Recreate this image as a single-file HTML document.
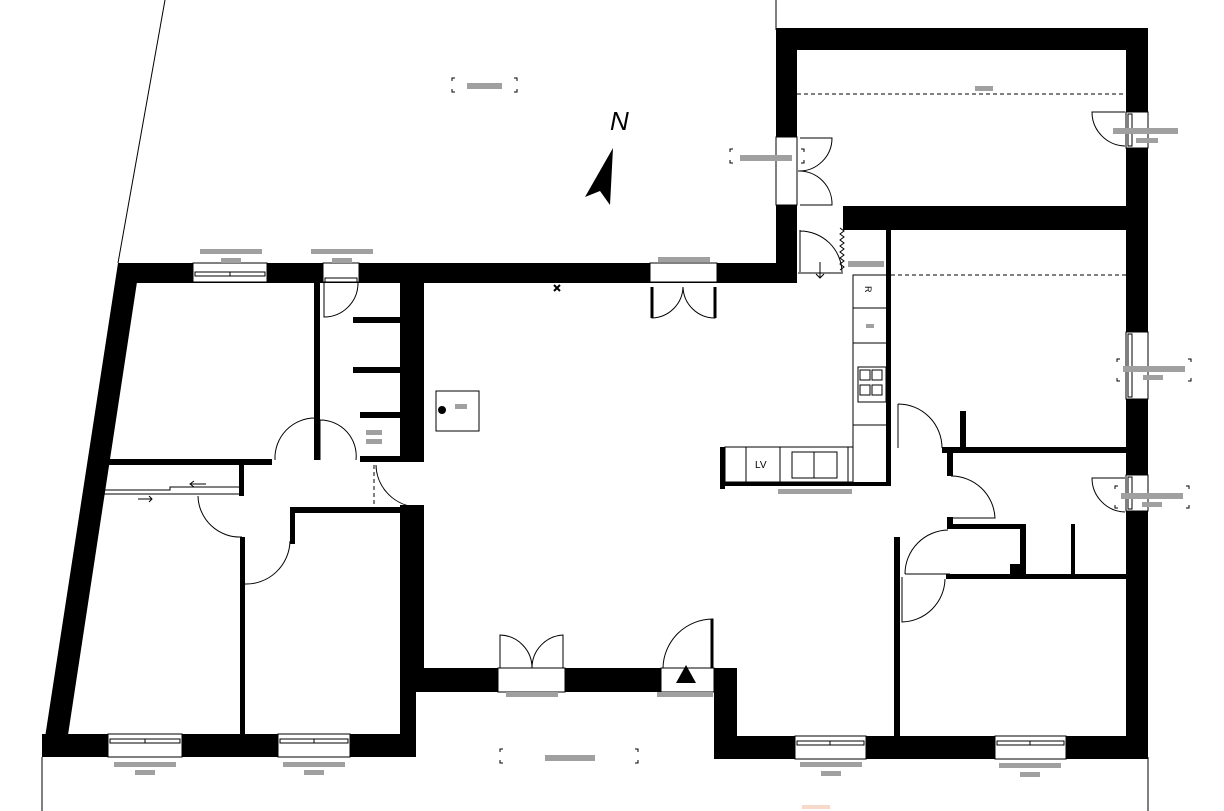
<!DOCTYPE html>
<html><head><meta charset="utf-8"><style>
html,body{margin:0;padding:0;background:#fff;}
svg{display:block}
</style></head><body>
<svg width="1224" height="811" viewBox="0 0 1224 811" xmlns="http://www.w3.org/2000/svg">
<rect width="1224" height="811" fill="#fff"/>
<g stroke="#000" stroke-width="1" fill="none">
<line x1="165" y1="0" x2="118" y2="263"/>
<line x1="776" y1="0" x2="776" y2="30"/>
<line x1="42" y1="757" x2="42" y2="811"/>
<line x1="1148" y1="757" x2="1148" y2="811"/>
</g>
<g fill="#000">
<polygon points="118,263 140,263 137,282 68,735 68,757 42,757"/>
<rect x="118" y="263" width="679" height="20"/>
<rect x="776" y="28" width="372" height="22"/>
<rect x="776" y="28" width="21" height="255"/>
<rect x="1126" y="28" width="22" height="731"/>
<rect x="843" y="206" width="283" height="24"/>
<rect x="886" y="206" width="5" height="280"/>
<rect x="400" y="282" width="24" height="180"/>
<rect x="400" y="505" width="24" height="187"/>
<rect x="400" y="690" width="16" height="67"/>
<rect x="42" y="734" width="374" height="23"/>
<rect x="416" y="668" width="320" height="24"/>
<rect x="714" y="668" width="23" height="91"/>
<rect x="714" y="736" width="434" height="23"/>
<rect x="104" y="459" width="168" height="6"/>
<rect x="314" y="282" width="6" height="178"/>
<rect x="353" y="317" width="47" height="6"/>
<rect x="353" y="367" width="47" height="6"/>
<rect x="360" y="412" width="40" height="6"/>
<rect x="360" y="456" width="64" height="6"/>
<rect x="239" y="460" width="5" height="36"/>
<rect x="290" y="507" width="134" height="6"/>
<rect x="290" y="507" width="5" height="37"/>
<rect x="240" y="537" width="5" height="198"/>
<rect x="894" y="537" width="6" height="200"/>
<rect x="942" y="447" width="184" height="6"/>
<rect x="960" y="411" width="6" height="38"/>
<rect x="947" y="450" width="6" height="26"/>
<rect x="947" y="517" width="6" height="12"/>
<rect x="950" y="524" width="76" height="5"/>
<rect x="1020" y="524" width="6" height="54"/>
<rect x="1071" y="524" width="4" height="54"/>
<rect x="946" y="574" width="180" height="5"/>
<rect x="1010" y="564" width="16" height="14"/>
<rect x="720" y="482" width="171" height="4"/>
<rect x="720" y="447" width="5" height="42"/>
</g>
<g fill="#fff" stroke="#000" stroke-width="1">
<rect x="193" y="263" width="74" height="19"/>
<rect x="323" y="263" width="36" height="19"/>
<rect x="650" y="263" width="67" height="19"/>
<rect x="776" y="137" width="21" height="68"/>
<rect x="108" y="734" width="74" height="23"/>
<rect x="278" y="734" width="72" height="23"/>
<rect x="498" y="668" width="67" height="24"/>
<rect x="661" y="668" width="53" height="24"/>
<rect x="795" y="736" width="71" height="23"/>
<rect x="995" y="736" width="71" height="23"/>
<rect x="1126" y="332" width="22" height="67"/>
<rect x="1126" y="475" width="22" height="36"/>
<rect x="1126" y="112" width="22" height="36"/>
<rect x="400" y="462" width="24" height="43" stroke="none"/>
</g>
<g stroke="#000" stroke-width="1" fill="none">
<rect x="195" y="272" width="70" height="4"/><line x1="230" y1="272" x2="230" y2="276"/>
<rect x="110" y="739" width="70" height="4"/><line x1="145" y1="739" x2="145" y2="743"/>
<rect x="280" y="739" width="68" height="4"/><line x1="314" y1="739" x2="314" y2="743"/>
<rect x="797" y="741" width="67" height="4"/><line x1="830" y1="741" x2="830" y2="745"/>
<rect x="997" y="741" width="67" height="4"/><line x1="1030" y1="741" x2="1030" y2="745"/>
<rect x="1128" y="334" width="4" height="63"/>
<rect x="1128" y="477" width="4" height="32"/>
<rect x="1128" y="114" width="4" height="32"/>
<rect x="325" y="278" width="32" height="4"/>
<path d="M324,283 V317 A34,34 0 0 0 358,283"/>
<path d="M652,287 V318 A32,32 0 0 0 683,287 M715,287 V318 A32,32 0 0 1 683,287"/>
<path d="M652,287 v31 M715,287 v31" stroke-width="3"/>
<path d="M800,138 H832 A33,33 0 0 1 798,171 M800,205 H832 A33,33 0 0 0 798,171"/>
<path d="M1125,112 H1092 A34,34 0 0 0 1125,146"/>
<path d="M1125,478 H1092 A34,34 0 0 0 1125,512"/>
<path d="M500,668 V635 A33,33 0 0 1 532,668 M563,668 V635 A33,33 0 0 0 532,668"/>
<path d="M713,668 V619 A50,50 0 0 0 663,668"/>
<path d="M712,619 v49" stroke-width="3"/>
<path d="M800,230 V272 M800,231 A42,42 0 0 1 842,272"/>
<path d="M798,273 H843"/>
<path d="M316,460 V418 A40,40 0 0 0 275,460 M320,460 V420 A36,36 0 0 1 356,460"/>
<path d="M376,465 A43,43 0 0 0 418,507"/>
<path d="M198,496 A42,42 0 0 0 242,537 M244,538 V584 A44,44 0 0 0 290,541"/>
<path d="M898,404 V448 M898,404 A44,44 0 0 1 942,448"/>
<path d="M951,476 A44,44 0 0 1 995,518 H952"/>
<path d="M905,574 H950 M905,574 A44,44 0 0 1 948,530"/>
<path d="M902,577 V622 A44,44 0 0 0 945,579"/>
<path d="M103,490 H170 V487 H240 M103,494 H240"/>
<rect x="725" y="447" width="128" height="35"/>
<line x1="746" y1="447" x2="746" y2="482"/><line x1="780" y1="447" x2="780" y2="482"/><line x1="848" y1="447" x2="848" y2="482"/>
<rect x="792" y="452" width="45" height="26"/><line x1="814" y1="452" x2="814" y2="478"/>
<path d="M853,447 V275 H886 M853,308 H886 M853,343 H886 M853,425 H886"/>
<rect x="858" y="367" width="28" height="35"/>
<path d="M860,370 h10 v10 h-10z M872,370 h10 v10 h-10z M860,385 h10 v10 h-10z M872,385 h10 v10 h-10z"/>
<rect x="436" y="391" width="43" height="40"/>
<line x1="797" y1="94" x2="1126" y2="94" stroke-dasharray="4,3"/>
<line x1="891" y1="275" x2="1126" y2="275" stroke-dasharray="4,3"/>
<line x1="374" y1="465" x2="374" y2="505" stroke-dasharray="4,3"/>
<path d="M840,228 l4,3 -4,3 4,3 -4,3 4,3 -4,3 4,3 -4,3 4,3 -4,3 4,3 -4,3 4,3 -4,3"/>
<path d="M820,262 v16 m-4,-4 l4,4 4,-4"/>
<path d="M190,484 h16 m-12,-3 l-4,3 4,3 M138,499 h14 m-3,-3 l3,3 -3,3"/>
<path d="M554,285 l6,6 m0,-6 l-6,6" stroke-width="2"/>
</g>
<g stroke="#000" stroke-width="1" fill="none">
<path d="M452,81 v-3 h3 M452,89 v3 h3 M517,81 v-3 h-3 M517,89 v3 h-3"/>
<path d="M730,152 v-3 h3 M730,160 v3 h3 M804,152 v-3 h-3 M804,160 v3 h-3"/>
<path d="M500,752 v-3 h3 M500,760 v3 h3 M638,752 v-3 h-3 M638,760 v3 h-3"/>
<path d="M1117,362 v-3 h3 M1117,378 v3 h3 M1191,362 v-3 h-3 M1191,378 v3 h-3"/>
<path d="M1115,489 v-3 h3 M1115,505 v3 h3 M1189,489 v-3 h-3 M1189,505 v3 h-3"/>
</g>
<circle cx="442" cy="410" r="4" fill="#000"/>
<text x="863" y="296" font-family="Liberation Sans, sans-serif" font-size="9" transform="rotate(90 869 292)">R</text>
<text x="755" y="468" font-family="Liberation Sans, sans-serif" font-size="10">LV</text>
<text x="610" y="130" font-family="Liberation Sans, sans-serif" font-size="26" font-style="italic">N</text>
<polygon points="613,148 585,197 600,191 610,205" fill="#000"/>
<polygon points="686,665 676,683 696,683" fill="#000"/>
<g fill="#a0a0a0">
<rect x="467" y="83" width="35" height="6"/>
<rect x="975" y="86" width="18" height="5"/>
<rect x="740" y="155" width="52" height="6"/>
<rect x="1113" y="128" width="65" height="6"/><rect x="1136" y="138" width="22" height="5"/>
<rect x="200" y="249" width="62" height="5"/><rect x="221" y="258" width="20" height="5"/>
<rect x="311" y="249" width="62" height="5"/><rect x="332" y="258" width="20" height="5"/>
<rect x="658" y="257" width="52" height="5"/>
<rect x="848" y="261" width="36" height="6"/>
<rect x="866" y="324" width="8" height="4"/>
<rect x="455" y="404" width="12" height="5"/>
<rect x="366" y="430" width="16" height="5"/><rect x="366" y="439" width="16" height="5"/>
<rect x="778" y="489" width="74" height="5"/>
<rect x="1123" y="366" width="62" height="6"/><rect x="1143" y="375" width="20" height="5"/>
<rect x="1121" y="493" width="62" height="6"/><rect x="1142" y="502" width="20" height="5"/>
<rect x="506" y="692" width="52" height="5"/>
<rect x="657" y="692" width="56" height="5"/>
<rect x="545" y="755" width="50" height="6"/>
<rect x="114" y="762" width="62" height="5"/><rect x="135" y="770" width="20" height="5"/>
<rect x="283" y="762" width="62" height="5"/><rect x="304" y="770" width="20" height="5"/>
<rect x="800" y="762" width="62" height="5"/><rect x="821" y="771" width="20" height="5"/>
<rect x="999" y="763" width="62" height="5"/><rect x="1020" y="772" width="20" height="5"/>
</g>
<rect x="802" y="805" width="28" height="4" fill="#f6d9c8"/>
</svg>
</body></html>
